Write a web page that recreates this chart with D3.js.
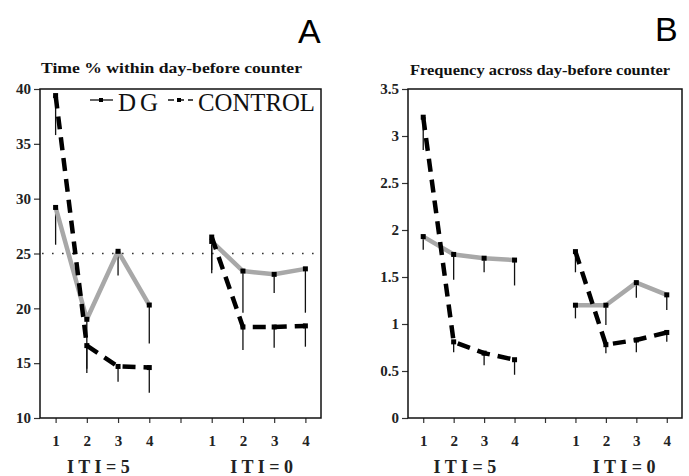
<!DOCTYPE html>
<html><head><meta charset="utf-8">
<script src="https://cdn.jsdelivr.net/npm/d3@7/dist/d3.min.js"></script>
<style>body{margin:0;background:#fff}svg{display:block}</style>
</head><body>
<svg id="chart" width="689" height="476"></svg>
<script>
// ---- data ----
const xPositions = [1, 2, 3, 4, 5, 6, 7, 8, 9];
const xTickLabels = ["1", "2", "3", "4", "", "1", "2", "3", "4"];
const groupLabels = ["I T I = 5", "I T I = 0"];
const seriesNames = ["DG", "CONTROL"];
const iti5Pos = [1, 2, 3, 4];
const iti0Pos = [6, 7, 8, 9];

// Panel A: Time % within day-before counter
const timeTicks = [10, 15, 20, 25, 30, 35, 40];
const timeDG5 = [29.2, 19.0, 25.2, 20.3];
const timeDG5Low = [25.8, 14.1, 23.0, 16.8];
const timeDG0 = [26.1, 23.4, 23.1, 23.6];
const timeDG0Low = [23.2, 19.6, 21.4, 19.6];
const timeCtl5 = [39.4, 16.6, 14.7, 14.6];
const timeCtl5Low = [35.8, 14.5, 13.3, 12.3];
const timeCtl0 = [26.5, 18.3, 18.3, 18.4];
const timeCtl0Low = [23.5, 16.2, 16.4, 16.5];
const timeReference = 25;

// Panel B: Frequency across day-before counter
const freqTicks = [0, 0.5, 1, 1.5, 2, 2.5, 3, 3.5];
const freqDG5 = [1.93, 1.74, 1.70, 1.68];
const freqDG5Low = [1.79, 1.47, 1.55, 1.41];
const freqDG0 = [1.20, 1.20, 1.44, 1.31];
const freqDG0Low = [1.06, 0.99, 1.28, 1.15];
const freqCtl5 = [3.2, 0.81, 0.69, 0.62];
const freqCtl5Low = [2.85, 0.70, 0.56, 0.46];
const freqCtl0 = [1.77, 0.78, 0.83, 0.91];
const freqCtl0Low = [1.55, 0.69, 0.70, 0.81];

const svg = d3.select("#chart");
const SERIF = "'Liberation Serif','Times New Roman',serif";
const SANS = "'Liberation Sans',Arial,sans-serif";

function zip(pos, vals, lows) { return pos.map((p, i) => ({x: p, y: vals[i], low: lows[i]})); }

function panel(cfg) {
  const g = svg.append("g");
  const x = d3.scaleLinear().domain([0.5, 9.5]).range([cfg.left, cfg.right]);
  const y = d3.scaleLinear().domain(cfg.domain).range([cfg.bottom, cfg.top]);

  // y axis
  const ya = g.append("g").attr("transform", `translate(${cfg.left},0)`)
    .call(d3.axisLeft(y).tickValues(cfg.ticks).tickSize(6).tickPadding(3).tickFormat(d3.format("")));
  ya.select(".domain").remove();
  ya.selectAll("text").attr("font-family", SERIF).attr("font-size", 15).attr("font-weight", "bold").attr("fill", "#222");
  ya.selectAll("line").attr("stroke", "#333").attr("stroke-width", 1.2);

  // x axis
  const xa = g.append("g").attr("transform", `translate(0,${cfg.bottom})`)
    .call(d3.axisBottom(x).tickValues(xPositions).tickSize(5).tickPadding(12)
      .tickFormat((d, i) => xTickLabels[i]));
  xa.select(".domain").remove();
  xa.selectAll("text").attr("font-family", SERIF).attr("font-size", 15).attr("font-weight", "bold").attr("fill", "#222");
  xa.selectAll("line").attr("stroke", "#333").attr("stroke-width", 1.2);

  // frame
  g.append("rect").attr("x", cfg.left).attr("y", cfg.top)
    .attr("width", cfg.right - cfg.left).attr("height", cfg.bottom - cfg.top)
    .attr("fill", "none").attr("stroke", "#111").attr("stroke-width", 1.5);

  if (cfg.ref !== undefined) {
    g.append("line").attr("x1", cfg.left + 2).attr("x2", cfg.right)
      .attr("y1", y(cfg.ref)).attr("y2", y(cfg.ref))
      .attr("stroke", "#333").attr("stroke-width", 1.6).attr("stroke-dasharray", "1.6,8.4");
  }

  const line = d3.line().x(d => x(d.x)).y(d => y(d.y));
  const dg = [zip(iti5Pos, cfg.dg5, cfg.dg5Low), zip(iti0Pos, cfg.dg0, cfg.dg0Low)];
  const ctl = [zip(iti5Pos, cfg.ctl5, cfg.ctl5Low), zip(iti0Pos, cfg.ctl0, cfg.ctl0Low)];

  // error bars (lower)
  [...dg.flat(), ...ctl.flat()].forEach(d => {
    g.append("line").attr("x1", x(d.x)).attr("x2", x(d.x))
      .attr("y1", y(d.y)).attr("y2", y(d.low))
      .attr("stroke", "#111").attr("stroke-width", 1.3);
  });

  dg.forEach(s => g.append("path").datum(s).attr("d", line)
    .attr("fill", "none").attr("stroke", "#a8a8a8").attr("stroke-width", 4.5)
    .attr("stroke-linejoin", "round"));
  ctl.forEach(s => g.append("path").datum(s).attr("d", line)
    .attr("fill", "none").attr("stroke", "#000").attr("stroke-width", 4.5)
    .attr("stroke-dasharray", "13,8"));

  [...dg.flat(), ...ctl.flat()].forEach(d => {
    g.append("rect").attr("x", x(d.x) - 2.5).attr("y", y(d.y) - 2.5)
      .attr("width", 5).attr("height", 5).attr("fill", "#000");
  });

  // group labels
  g.append("text").attr("x", x(2.37)).attr("y", 473).attr("text-anchor", "middle")
    .attr("font-family", SERIF).attr("font-size", 18).attr("font-weight", "bold").attr("fill", "#222").text(groupLabels[0]);
  g.append("text").attr("x", x(7.6)).attr("y", 473).attr("text-anchor", "middle")
    .attr("font-family", SERIF).attr("font-size", 18).attr("font-weight", "bold").attr("fill", "#222").text(groupLabels[1]);

  // title
  g.append("text").attr("x", cfg.titleX).attr("y", cfg.titleY)
    .attr("font-family", SERIF).attr("font-size", 14).attr("font-weight", "bold").attr("fill", "#111")
    .attr("textLength", cfg.titleW).attr("lengthAdjust", "spacingAndGlyphs").text(cfg.title);

  // panel letter
  g.append("text").attr("x", cfg.letterX).attr("y", cfg.letterY)
    .attr("font-family", SANS).attr("font-size", 34).attr("fill", "#000").text(cfg.letter);
  return {g, x, y};
}

const A = panel({
  left: 40, right: 321, top: 89, bottom: 418,
  domain: [10, 40], ticks: timeTicks, ref: timeReference,
  dg5: timeDG5, dg5Low: timeDG5Low, dg0: timeDG0, dg0Low: timeDG0Low,
  ctl5: timeCtl5, ctl5Low: timeCtl5Low, ctl0: timeCtl0, ctl0Low: timeCtl0Low,
  title: "Time % within day-before counter", titleX: 41, titleY: 73, titleW: 261,
  letter: "A", letterX: 298, letterY: 43
});

panel({
  left: 408, right: 682, top: 89, bottom: 418,
  domain: [0, 3.5], ticks: freqTicks,
  dg5: freqDG5, dg5Low: freqDG5Low, dg0: freqDG0, dg0Low: freqDG0Low,
  ctl5: freqCtl5, ctl5Low: freqCtl5Low, ctl0: freqCtl0, ctl0Low: freqCtl0Low,
  title: "Frequency across day-before counter", titleX: 410, titleY: 75, titleW: 260,
  letter: "B", letterX: 655, letterY: 41
});

// legend (panel A)
const lg = A.g.append("g");
lg.append("line").attr("x1", 90).attr("x2", 113).attr("y1", 100).attr("y2", 100)
  .attr("stroke", "#111").attr("stroke-width", 1.3);
lg.append("rect").attr("x", 99).attr("y", 98).attr("width", 4).attr("height", 4).attr("fill", "#000");
lg.append("text").attr("x", 118).attr("y", 111).attr("font-family", SERIF).attr("font-size", 25)
  .attr("fill", "#111").attr("textLength", 40).attr("lengthAdjust", "spacing").text(seriesNames[0]);
lg.append("line").attr("x1", 168).attr("x2", 193).attr("y1", 100).attr("y2", 100)
  .attr("stroke", "#111").attr("stroke-width", 1.3).attr("stroke-dasharray", "6,4");
lg.append("rect").attr("x", 177).attr("y", 98).attr("width", 4).attr("height", 4).attr("fill", "#000");
lg.append("text").attr("x", 198).attr("y", 111).attr("font-family", SERIF).attr("font-size", 25)
  .attr("fill", "#111").attr("textLength", 117).attr("lengthAdjust", "spacingAndGlyphs").text(seriesNames[1]);
</script>
</body></html>
